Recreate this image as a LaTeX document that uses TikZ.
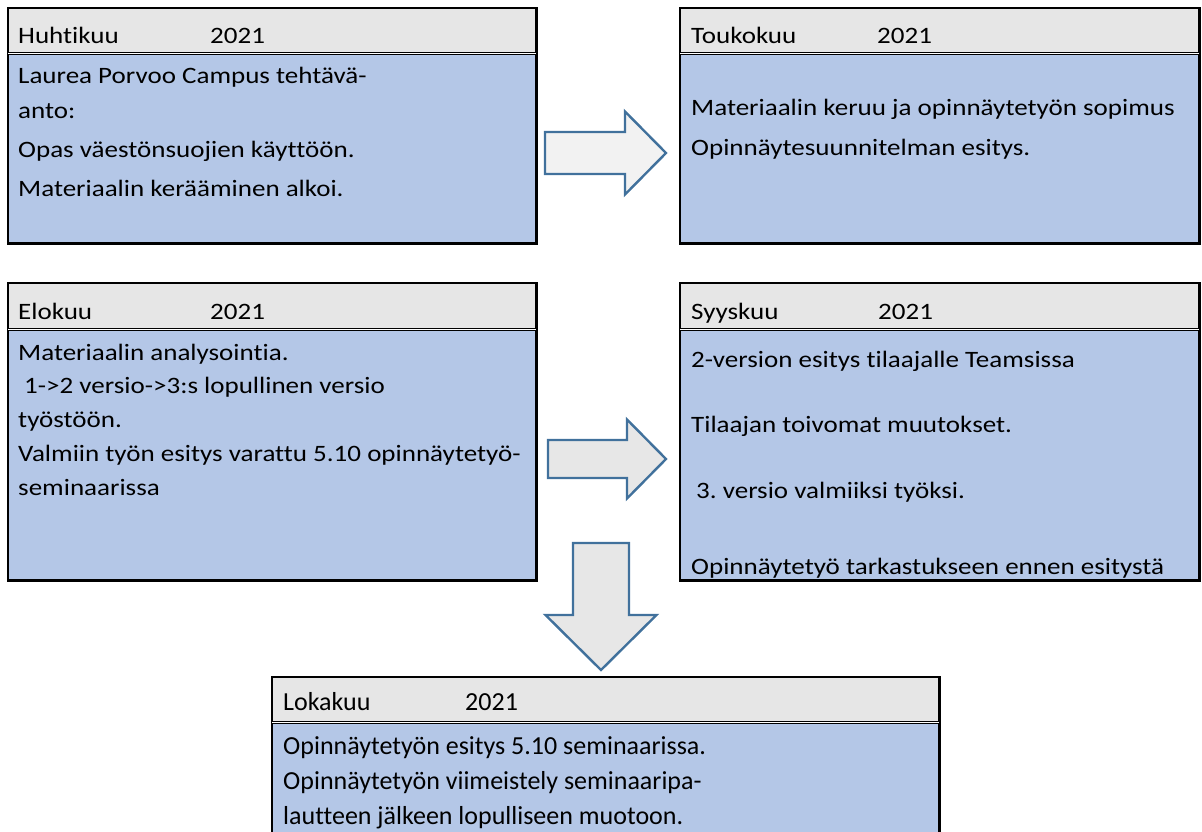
\documentclass[tikz,border=0pt]{standalone}
\usepackage{fontspec}
\setmainfont[Ligatures=NoCommon,FakeStretch=1.15]{Carlito}
\newfontfamily\lokafont[Ligatures=NoCommon]{Carlito}
\usepackage{xcolor}
\usetikzlibrary{positioning}

\definecolor{bodyblue}{HTML}{B4C7E7}
\definecolor{headgray}{HTML}{E6E6E6}
\definecolor{arrowgray}{HTML}{E7E7E7}
\definecolor{arrowlight}{HTML}{F2F2F2}
\definecolor{arrowline}{HTML}{41719C}

\begin{document}
\begin{tikzpicture}[x=1pt,y=-1pt,
    head/.style={fill=headgray,anchor=north west,inner sep=0pt},
    body/.style={fill=bodyblue,anchor=north west,inner sep=0pt},
    frame/.style={draw,line width=2.4pt},
    sep/.style={line width=1.1pt,double,double distance=1.6pt},
    txt/.style={anchor=base west,inner sep=0pt,font=\fontsize{23.5}{28}\selectfont},
    bigtxt/.style={txt,font=\lokafont\fontsize{26}{32}\selectfont},
    blockarrow/.style={draw=arrowline,line width=2.4pt,fill=arrowgray,line join=miter}]

    \clip (0,0) rectangle (1202,831);

    % The boxes
	\node [head,minimum width=528pt,minimum height=45pt] at (8,8) (h1) {};
	\node [body,minimum width=528pt,minimum height=190pt] at (8,53) (b1) {};
	\node [head,minimum width=519pt,minimum height=45pt] at (680,8) (h2) {};
	\node [body,minimum width=519pt,minimum height=190pt] at (680,53) (b2) {};

	\node [head,minimum width=528pt,minimum height=46pt] at (8,283) (h3) {};
	\node [body,minimum width=528pt,minimum height=251pt] at (8,329) (b3) {};
	\node [head,minimum width=519pt,minimum height=46pt] at (680,283) (h4) {};
	\node [body,minimum width=519pt,minimum height=251pt] at (680,329) (b4) {};

	\node [head,minimum width=667pt,minimum height=45pt] at (272,677) (h5) {};
	\node [body,minimum width=667pt,minimum height=170pt] at (272,722) (b5) {};

	\draw [frame] (h1.north west) rectangle (b1.south east);
	\draw [frame] (h2.north west) rectangle (b2.south east);
	\draw [frame] (h3.north west) rectangle (b3.south east);
	\draw [frame] (h4.north west) rectangle (b4.south east);
	\draw [frame] (h5.north west) rectangle (b5.south east);

	\draw [sep] (h1.south west) -- (h1.south east);
	\draw [sep] (h2.south west) -- (h2.south east);
	\draw [sep] (h3.south west) -- (h3.south east);
	\draw [sep] (h4.south west) -- (h4.south east);
	\draw [sep] (h5.south west) -- (h5.south east);

    % Texts
	\node [txt] at (18,43) (m1) {Huhtikuu};
	\node [txt] at (210,43) (y1) {2021};
	\node [txt] at (18,83) (t11) {Laurea Porvoo Campus tehtävä-};
	\node [txt] at (18,118) (t12) {anto:};
	\node [txt] at (18,157) (t13) {Opas väestönsuojien käyttöön.};
	\node [txt] at (18,196) (t14) {Materiaalin kerääminen alkoi.};

	\node [txt] at (691,43) (m2) {Toukokuu};
	\node [txt] at (877,43) (y2) {2021};
	\node [txt] at (691,115) (t21) {Materiaalin keruu ja opinnäytetyön sopimus};
	\node [txt] at (691,155) (t22) {Opinnäytesuunnitelman esitys.};

	\node [txt] at (18,319) (m3) {Elokuu};
	\node [txt] at (210,319) (y3) {2021};
	\node [txt] at (18,360) (t31) {Materiaalin analysointia.};
	\node [txt] at (24,393) (t32) {1->2 versio->3:s lopullinen versio};
	\node [txt] at (18,427) (t33) {työstöön.};
	\node [txt] at (18,461) (t34) {Valmiin työn esitys varattu 5.10 opinnäytetyö-};
	\node [txt] at (18,495) (t35) {seminaarissa};

	\node [txt] at (691,319) (m4) {Syyskuu};
	\node [txt] at (878,319) (y4) {2021};
	\node [txt] at (691,367) (t41) {2-version esitys tilaajalle Teamsissa};
	\node [txt] at (691,432) (t42) {Tilaajan toivomat muutokset.};
	\node [txt] at (696,498) (t43) {3.\ versio valmiiksi työksi.};
	\node [txt] at (691,574) (t44) {Opinnäytetyö tarkastukseen ennen esitystä};

	\node [bigtxt] at (283,710) (m5) {Lokakuu};
	\node [bigtxt] at (465,710) (y5) {2021};
	\node [bigtxt] at (283,754) (t51) {Opinnäytetyön esitys 5.10 seminaarissa.};
	\node [bigtxt] at (283,789) (t52) {Opinnäytetyön viimeistely seminaaripa-};
	\node [bigtxt] at (283,824) (t53) {lautteen jälkeen lopulliseen muotoon.};

    % Block arrows
	\coordinate (a1) at (545,153);
	\coordinate (a2) at (548,459);
	\coordinate (a3) at (601,543);

	\draw [blockarrow,fill=arrowlight] (a1) -- ++(0,-21) -- ++(80,0) -- ++(0,-20.5) -- ++(41,41.5)
	    -- ++(-41,41.5) -- ++(0,-20.5) -- ++(-80,0) -- cycle;
	\draw [blockarrow] (a2) -- ++(0,-19) -- ++(79,0) -- ++(0,-20.5) -- ++(39,39.5)
	    -- ++(-39,39.5) -- ++(0,-20.5) -- ++(-79,0) -- cycle;
	\draw [blockarrow] (a3) -- ++(28,0) -- ++(0,72) -- ++(27.5,0) -- ++(-55.5,55)
	    -- ++(-55.5,-55) -- ++(27.5,0) -- ++(0,-72) -- cycle;

\end{tikzpicture}
\end{document}
